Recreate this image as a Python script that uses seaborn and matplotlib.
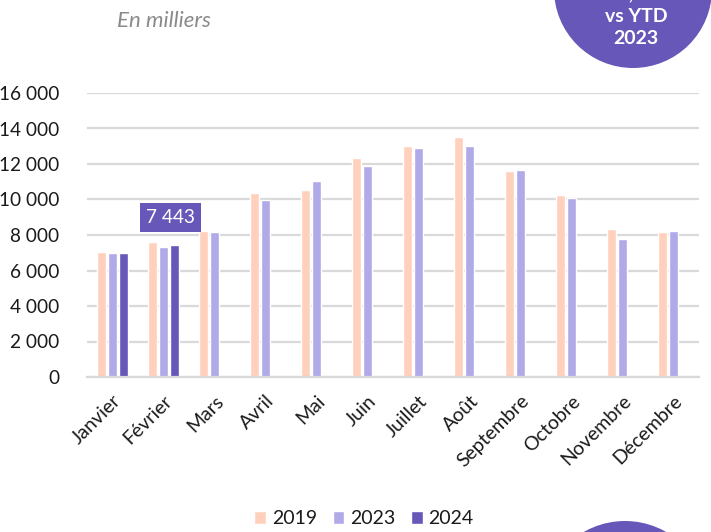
import pandas as pd
import matplotlib.pyplot as plt
import seaborn as sns
from matplotlib.patches import Ellipse

mois = ['Janvier', 'Février', 'Mars', 'Avril', 'Mai', 'Juin', 'Juillet',
        'Août', 'Septembre', 'Octobre', 'Novembre', 'Décembre']
v2019 = [7030, 7590, 8250, 10340, 10540, 12340, 13040, 13510, 11590, 10240, 8340, 8150]
v2023 = [6970, 7320, 8170, 9960, 11070, 11910, 12890, 13000, 11650, 10060, 7760, 8230]
v2024 = [6990, 7443, None, None, None, None, None, None, None, None, None, None]
annees = ['2019', '2023', '2024']
couleurs = ['#FFD0BC', '#B1AAE8', '#6757B8']

rows = []
for annee, vals in zip(annees, [v2019, v2023, v2024]):
    for m, v in zip(mois, vals):
        rows.append({'mois': m, 'annee': annee, 'valeur': v})
df = pd.DataFrame(rows)

sns.set_style('white')
plt.rcParams['font.family'] = ['Lato', 'DejaVu Sans']

fig = plt.figure(figsize=(7.11, 5.32), dpi=100)
ax = fig.add_axes([87 / 711, 1 - 377 / 532, 612 / 711, 284 / 532])

sns.barplot(data=df, x='mois', y='valeur', hue='annee', palette=couleurs,
            width=0.66, gap=0.17, ax=ax, saturation=1)

ax.set_ylim(0, 16000)
ax.set_xlim(-0.5, 11.5)
ax.set_yticks(range(0, 16001, 2000))
ax.set_yticklabels([f'{t:,}'.replace(',', ' ') for t in range(0, 16001, 2000)],
                   fontsize=13.7, color='#1a1a1a')
ax.tick_params(axis='y', length=0, pad=20)
ax.tick_params(axis='x', length=0, pad=11)
for lbl in ax.get_xticklabels():
    lbl.set_rotation(45)
    lbl.set_ha('right')
    lbl.set_rotation_mode('anchor')
    lbl.set_fontsize(14)
    lbl.set_color('#1a1a1a')
ax.set_xlabel('')
ax.set_ylabel('')
ax.yaxis.grid(True, color='#d9d9d9', lw=1.6)
ax.set_axisbelow(True)
for s in ['top', 'right', 'left']:
    ax.spines[s].set_visible(False)
ax.spines['bottom'].set_color('#d9d9d9')
ax.spines['bottom'].set_linewidth(1.6)

ax.text(1.13, 8990, '7 443', ha='center', va='center', fontsize=13.7, color='white',
        bbox=dict(boxstyle='square,pad=0.32', fc='#6757B8', ec='none'))

ax.legend(loc='center', bbox_to_anchor=(364 / 711, 1 - 519 / 532),
          bbox_transform=fig.transFigure, ncol=3, frameon=False, fontsize=14,
          handlelength=0.6, handleheight=0.6, handletextpad=0.3, columnspacing=0.8,
          labelcolor='#1a1a1a')

fig.text(117 / 711, 1 - 21 / 532, 'En milliers', fontsize=16, style='italic',
         color='#8a8a8a', va='center')

fig.patches.append(Ellipse((633 / 711, 1 + 11 / 532), 158 / 711, 158 / 532,
                           transform=fig.transFigure, fc='#6757B8', ec='none'))
fig.patches.append(Ellipse((625 / 711, 1 - 604 / 532), 166 / 711, 166 / 532,
                           transform=fig.transFigure, fc='#6757B8', ec='none'))
fig.text(636 / 711, 1 - 17 / 532, 'vs YTD', ha='center', va='center', fontsize=14,
         fontweight='bold', color='white')
fig.text(636 / 711, 1 - 38 / 532, '2023', ha='center', va='center', fontsize=14,
         fontweight='bold', color='white')
fig.text(636 / 711, 1 + 6 / 532, '+6,4 %', ha='center', va='center', fontsize=14,
         fontweight='bold', color='white')

fig.savefig('out.png', dpi=100)
